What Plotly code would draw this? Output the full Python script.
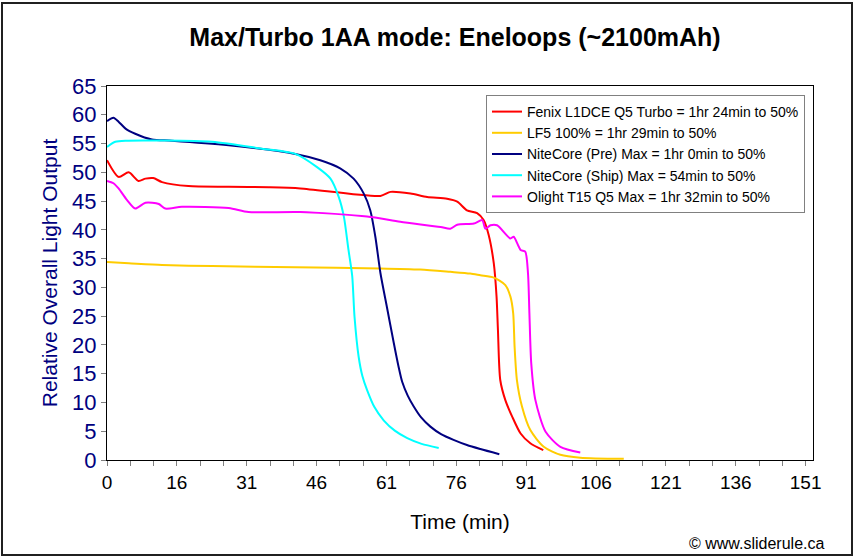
import plotly.graph_objects as go

# ---- data ----
fenix_t = [0, 2.5, 4.7, 6.8, 8.3, 10, 11.9, 17.6, 26.3, 35, 41.8, 59.1, 61.3, 65.6, 69.2, 73.5, 75.7, 77.8, 80.0,
           81.4, 82.5, 83.6, 84.2, 84.5, 85.0, 86.1, 87.6, 89.4, 91.5, 94.3]
fenix_v = [52.1, 49.2, 50.0, 48.5, 48.9, 49.0, 48.3, 47.6, 47.5, 47.4, 47.2, 45.9, 46.6, 46.3, 45.7, 45.4, 44.9, 43.4, 42.9,
           41.7, 39.1, 34.2, 28.4, 22.6, 13.9, 10.4, 7.5, 4.6, 2.9, 1.7]

lf5_t = [0, 4.7, 11.9, 22.7, 40.7, 59.0, 67.7, 74.2, 78.5, 80.7, 83.6, 86.1, 87.2, 87.8, 88.1, 88.6, 89.7, 91.5, 94.4,
         98.0, 102.3, 111.7]
lf5_v = [34.4, 34.2, 33.9, 33.7, 33.5, 33.3, 33.1, 32.7, 32.4, 32.1, 31.7, 30.4, 28.4, 25.5, 19.7, 13.9, 9.3, 5.2, 2.3,
         0.9, 0.4, 0.2]

pre_t = [0, 1.4, 2.5, 4.0, 6.1, 9.7, 14, 26.3, 40.7, 46.1, 50.4, 53.3, 55.5, 56.9, 58.0, 59.1, 60.5, 62.0, 63.0, 63.8,
         65.0, 66.3, 67.9, 69.9, 72.2, 74.9, 77.8, 80.7, 84.8]
pre_v = [58.9, 59.5, 58.8, 57.6, 56.7, 55.7, 55.5, 54.7, 53.2, 52.1, 50.7, 48.9, 46.3, 43.4, 38.8, 32.5, 26.6, 20.3, 16.3,
         13.6, 11.2, 9.3, 7.4, 5.8, 4.5, 3.5, 2.6, 1.9, 1.0]

ship_t = [0, 1.8, 4.0, 22.7, 33.5, 40.7, 45.4, 48.3, 50.1, 51.2, 52.2, 53.0, 53.5, 54.4, 55.2, 56.2, 57.8, 59.8, 62.2,
          64.9, 68.0, 71.7]
ship_v = [54.4, 55.3, 55.5, 55.3, 54.1, 53.2, 50.9, 48.9, 45.7, 42.3, 36.5, 32.0, 24.9, 17.9, 14.6, 12.2, 9.2, 6.9, 5.1,
          3.8, 2.8, 2.1]

olight_t = [0, 1.4, 2.5, 4.3, 6.1, 8.3, 11.2, 12.6, 16.2, 26.3, 30.6, 41.8, 56.2, 63.4, 72.1, 74.2, 75.7, 79.3, 81.1,
            81.8, 82.9, 84.3, 87.2, 87.9, 89.4, 90.4, 91.0, 91.3, 91.7, 92.6, 94.8, 98.0, 102.3]
olight_v = [48.5, 48.1, 47.2, 45.2, 43.7, 44.7, 44.5, 43.7, 44.0, 43.8, 43.1, 43.1, 42.3, 41.4, 40.5, 40.2, 40.9, 41.1,
            41.7, 40.2, 40.8, 40.8, 38.5, 38.8, 36.5, 36.2, 32.4, 25.5, 16.8, 10.4, 4.9, 2.3, 1.3]

series_names = ["Fenix L1DCE Q5 Turbo = 1hr 24min to 50%",
                "LF5 100% = 1hr 29min to 50%",
                "NiteCore (Pre) Max = 1hr 0min to 50%",
                "NiteCore (Ship) Max = 54min to 50%",
                "Olight T15 Q5 Max = 1hr 32min to 50%"]
series_colors = ["#FF0000", "#FFCC00", "#000080", "#00FFFF", "#FF00FF"]

x_tick_labels = ["0", "16", "31", "46", "61", "76", "91", "106", "121", "136", "151"]
x_tick_step = 15.1
y_ticks = list(range(0, 70, 5))

# ---- figure ----
FONT = "Liberation Sans, Arial, sans-serif"
fig = go.Figure()
for t, v, name, col in zip([fenix_t, lf5_t, pre_t, ship_t, olight_t],
                           [fenix_v, lf5_v, pre_v, ship_v, olight_v],
                           series_names, series_colors):
    fig.add_trace(go.Scatter(x=t, y=v, mode="lines", name=name,
                             line=dict(color=col, width=2, shape="spline", smoothing=0.7)))

L, R, T, B = 107, 42, 86, 100
W, H = 855, 560
pw, ph = W - L - R, H - T - B

fig.update_layout(
    width=W, height=H,
    margin=dict(l=L, r=R, t=T, b=B),
    paper_bgcolor="white", plot_bgcolor="white",
    font=dict(family=FONT, color="black"),
    title=dict(text="<b>Max/Turbo 1AA mode: Eneloops (~2100mAh)</b>",
               x=455 / W, xanchor="center", y=1 - 37 / H, yanchor="middle",
               font=dict(size=25, family=FONT, color="black")),
    xaxis=dict(range=[0, 152.6], tickmode="array",
               tickvals=[i * x_tick_step for i in range(len(x_tick_labels))],
               ticktext=x_tick_labels, ticks="outside", ticklen=5, tickcolor="#808080",
               showgrid=False, zeroline=False, showline=True, linecolor="black", linewidth=1, mirror=True,
               tickfont=dict(size=19, family=FONT, color="black"),
               minor=dict(dtick=x_tick_step / 3, tick0=0, ticks="outside", ticklen=5, tickcolor="#808080"),
               title=dict(text="Time (min)", font=dict(size=21, family=FONT, color="black"), standoff=22)),
    yaxis=dict(range=[0, 65], tickmode="array", tickvals=y_ticks, ticks="outside", ticklen=5,
               tickcolor="#808080", showgrid=False, zeroline=False, showline=True, linecolor="black",
               linewidth=1, mirror=True,
               tickfont=dict(size=22, family=FONT, color="#000080"),
               title=dict(text="Relative Overall Light Output",
                          font=dict(size=21, family=FONT, color="#000080"), standoff=8)),
    legend=dict(x=(805 - L) / pw, xanchor="right", y=(460 - 95) / ph, yanchor="top",
                bgcolor="white", bordercolor="#808080", borderwidth=1,
                font=dict(size=14, family=FONT, color="black"), itemwidth=30, tracegroupgap=0),
    showlegend=True,
)

# outer border of the whole image
fig.add_shape(type="rect", xref="paper", yref="paper",
              x0=(2 - L) / pw, x1=(852 - L) / pw, y0=(460 - 555) / ph, y1=(460 - 3) / ph,
              line=dict(color="#202020", width=2), fillcolor="rgba(0,0,0,0)", layer="above")

fig.add_annotation(text="© www.sliderule.ca", xref="paper", yref="paper",
                   x=(826 - L) / pw, xanchor="right", y=(460 - 543) / ph, yanchor="middle",
                   showarrow=False, font=dict(size=16, family=FONT, color="black"))

fig.write_html("out.html", config={"displayModeBar": False},
               post_script="document.body.style.margin='0px';document.body.style.overflow='hidden';")
